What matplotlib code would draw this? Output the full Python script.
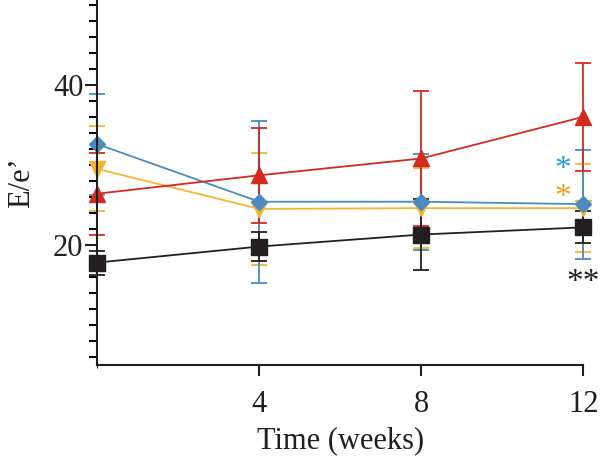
import matplotlib
matplotlib.use("Agg")
import matplotlib.pyplot as plt
from matplotlib.ticker import MultipleLocator

weeks = [0, 4, 8, 12]

black_mean = [17.8, 19.8, 21.3, 22.2]
black_err = [1.5, 1.8, 4.4, 2.0]

blue_mean = [32.6, 25.4, 25.4, 25.1]
blue_err = [6.3, 10.1, 6.0, 6.8]

yellow_mean = [29.5, 24.5, 24.6, 24.6]
yellow_err = [5.3, 7.0, 5.0, 5.5]

red_mean = [26.4, 28.7, 30.8, 36.0]
red_err = [5.1, 5.9, 8.4, 6.7]

c_black = "#231f20"
c_blue = "#4a8cc0"
c_yellow = "#f5b530"
c_red = "#d42a20"

plt.rcParams['font.family'] = ['Liberation Serif', 'DejaVu Serif']

fig = plt.figure(figsize=(6.0, 4.65), dpi=100)
ax = fig.add_axes([0.162, 0.215, 0.810, 0.785])

series = [
    (yellow_mean, yellow_err, c_yellow, 'v', 11),
    (blue_mean, blue_err, c_blue, 'D', 8.5),
    (red_mean, red_err, c_red, '^', 11),
    (black_mean, black_err, c_black, 's', 11.5),
]
for m, e, c, mk, ms in series:
    cont = ax.errorbar(weeks, m, yerr=e, color=c, marker=mk, markersize=ms,
                       linewidth=1.3, elinewidth=1.3, capsize=5.5, capthick=1.3,
                       clip_on=False)
    for art in cont.get_children():
        art.set_clip_on(False)

ax.set_xlim(0, 12)
ax.set_ylim(5, 50.6)
ax.set_xticks([4, 8, 12])
ax.set_yticks([20, 40])
ax.yaxis.set_minor_locator(MultipleLocator(2))
ax.xaxis.set_minor_locator(MultipleLocator(100))

for s in ['top', 'right']:
    ax.spines[s].set_visible(False)
for s in ['left', 'bottom']:
    ax.spines[s].set_linewidth(1.5)
    ax.spines[s].set_color(c_black)

ax.tick_params(axis='y', which='major', length=9, width=1.5, labelsize=22, pad=1, colors=c_black)
ax.tick_params(axis='y', which='minor', length=5.5, width=1.5)
ax.tick_params(axis='x', which='major', length=8, width=1.5, labelsize=22, pad=10, colors=c_black)

ax.set_xlabel("Time (weeks)", fontsize=22, color=c_black, labelpad=5)
ax.set_ylabel("E/e\u2019", fontsize=22, color=c_black, labelpad=12)

ax.text(11.5, 29.4, "*", color="#2a9fd6", fontsize=24, ha='center', va='center')
ax.text(11.5, 25.9, "*", color="#f5a020", fontsize=24, ha='center', va='center')
ax.text(12.0, 15.3, "**", color=c_black, fontsize=24, ha='center', va='center', clip_on=False)

fig.savefig("out.png", dpi=100)
